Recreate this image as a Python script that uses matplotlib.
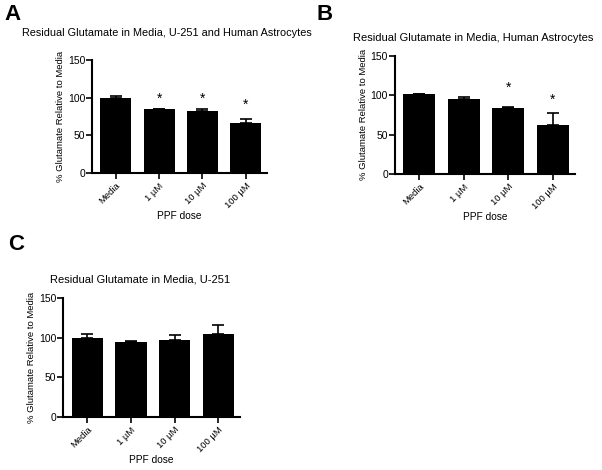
import matplotlib
matplotlib.use("Agg")
import matplotlib.pyplot as plt

plt.rcParams['font.family'] = ['Liberation Sans', 'DejaVu Sans']

doses = ["Media", "1 \u00b5M", "10 \u00b5M", "100 \u00b5M"]

# panel A: U-251 and human astrocytes
vals_a = [100, 85, 83, 67]
err_a = [2, 0.5, 1.5, 5]
star_a = [None, 89, 89, 81]

# panel B: human astrocytes
vals_b = [101, 95, 84, 62]
err_b = [1, 3, 0.5, 15]
star_b = [None, None, 101, 85]

# panel C: U-251
vals_c = [100, 95, 97, 104]
err_c = [4, 1, 6, 12]
star_c = [None, None, None, None]

fig = plt.figure(figsize=(6.02, 4.70), dpi=100)


def panel(rect, vals, errs, stars, title, letter, letter_xy, title_xy, title_size):
    ax = fig.add_axes(rect)
    x = range(len(vals))
    ax.bar(x, vals, width=0.72, color="black", zorder=2)
    ax.errorbar(x, vals, yerr=[[0] * len(errs), errs], fmt="none",
                ecolor="black", elinewidth=1.2, capsize=4, capthick=1.2, zorder=3)
    for i, s in enumerate(stars):
        if s is not None:
            ax.text(i, s, "*", ha="center", va="bottom", fontsize=10)
    ax.set_xlim(-0.55, 3.5)
    ax.set_ylim(0, 150)
    ax.set_yticks([0, 50, 100, 150])
    ax.set_xticks(list(x))
    ax.set_xticklabels(doses, rotation=45, ha="right", rotation_mode="anchor",
                       fontsize=6.8)
    ax.tick_params(axis="y", labelsize=7.5, length=4, width=1.2, direction="out", pad=1)
    ax.tick_params(axis="x", length=4, width=1.2, direction="out", pad=2)
    for side in ["top", "right"]:
        ax.spines[side].set_visible(False)
    for side in ["left", "bottom"]:
        ax.spines[side].set_linewidth(1.5)
    ax.set_xlabel("PPF dose", fontsize=7.3, labelpad=1)
    ax.set_ylabel("% Glutamate Relative to Media", fontsize=6.8, labelpad=2)
    fig.text(title_xy[0] / 602, 1 - title_xy[1] / 470, title, fontsize=title_size,
             ha="left", va="center")
    fig.text(letter_xy[0] / 602, 1 - letter_xy[1] / 470, letter, fontsize=16,
             fontweight="bold", ha="left", va="center")
    return ax


panel([0.153, 0.632, 0.291, 0.240], vals_a, err_a, star_a,
      "Residual Glutamate in Media, U-251 and Human Astrocytes", "A",
      (4, 15), (22, 33), 7.8)
panel([0.656, 0.630, 0.299, 0.251], vals_b, err_b, star_b,
      "Residual Glutamate in Media, Human Astrocytes", "B",
      (316, 14), (353, 38), 8)
panel([0.105, 0.113, 0.294, 0.253], vals_c, err_c, star_c,
      "Residual Glutamate in Media, U-251", "C",
      (8, 244), (50, 279), 8)

fig.savefig("out.png", dpi=100)
